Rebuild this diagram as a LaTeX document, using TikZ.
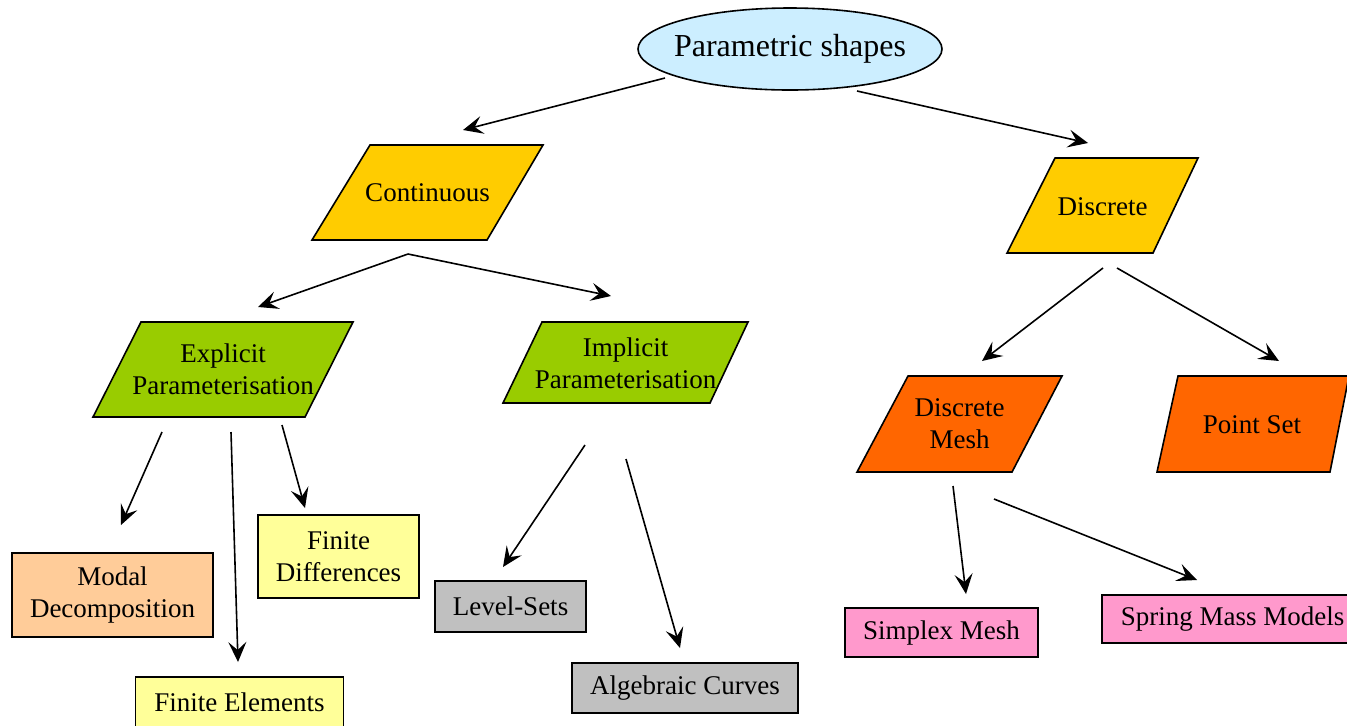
\documentclass[tikz,border=0pt]{standalone}
\usepackage{fontspec}
\setmainfont{Liberation Serif}
\usetikzlibrary{arrows.meta,calc}
\definecolor{skyfill}{HTML}{CCEEFF}
\definecolor{goldfill}{HTML}{FFCC00}
\definecolor{limefill}{HTML}{99CC00}
\definecolor{orangefill}{HTML}{FF6600}
\definecolor{peachfill}{HTML}{FFCC99}
\definecolor{lemonfill}{HTML}{FFFF99}
\definecolor{greyfill}{HTML}{C0C0C0}
\definecolor{pinkfill}{HTML}{FF99CC}
\tikzset{
	outline/.style={draw=black, line width=0.8pt},
	label/.style={inner sep=0pt, align=center, font=\fontsize{13.5}{16}\selectfont},
	leaf/.style n args={2}{outline, label, rectangle, minimum width=#1, minimum height=#2},
	arr/.style={-{Stealth[length=10pt, width=9pt, inset=4pt]}, line width=0.8pt}
}
\begin{document}
\begin{tikzpicture}[x=0.5pt, y=-0.5pt]
	\useasboundingbox (0,0) rectangle (1347,725);
	% top
	\filldraw[outline, fill=skyfill] (790,49) ellipse [x radius=76pt, y radius=20.5pt];
	\node[label, font=\fontsize{16}{19}\selectfont] (ps) at (790,49) {Parametric shapes};
	% second level
	\filldraw[outline, fill=goldfill] (370,145) -- (543,145) -- (487,240) -- (312,240) -- cycle;
	\node[label] (cont) at (427.5,192.5) {Continuous};
	\filldraw[outline, fill=goldfill] (1055,158) -- (1198,158) -- (1153,253) -- (1007,253) -- cycle;
	\node[label] (disc) at (1102.5,207) {Discrete};
	% third level
	\filldraw[outline, fill=limefill] (141,322) -- (353,322) -- (305,417) -- (93,417) -- cycle;
	\node[label] (expl) at (223,369.5) {Explicit\\Parameterisation};
	\filldraw[outline, fill=limefill] (542,322) -- (748,322) -- (710,403) -- (503,403) -- cycle;
	\node[label] (impl) at (625.5,363) {Implicit\\Parameterisation};
	\filldraw[outline, fill=orangefill] (908,376) -- (1062,376) -- (1012,472) -- (857,472) -- cycle;
	\node[label] (dm) at (959.5,424) {Discrete\\Mesh};
	\filldraw[outline, fill=orangefill] (1178,376) -- (1349,376) -- (1330,472) -- (1157,472) -- cycle;
	\node[label] (pset) at (1252,425) {Point Set};
	% leaves
	\node[leaf={100.5pt}{42pt}, fill=peachfill] (modal) at (112.5,595) {Modal\\Decomposition};
	\node[leaf={80.5pt}{41.5pt}, fill=lemonfill] (fd) at (338.5,556.5) {Finite\\Differences};
	\node[leaf={104pt}{25pt}, fill=lemonfill] (fe) at (239.5,702) {Finite Elements};
	\node[leaf={75.5pt}{25.5pt}, fill=greyfill] (ls) at (510.5,606.5) {Level-Sets};
	\node[leaf={113pt}{25pt}, fill=greyfill] (ac) at (685,688) {Algebraic Curves};
	\node[leaf={96.5pt}{24.5pt}, fill=pinkfill] (sm) at (941.5,632.5) {Simplex Mesh};
	\node[leaf={130.5pt}{24pt}, fill=pinkfill] (smm) at (1232.5,619) {Spring Mass Models};
	% connectors
	\draw[arr] ($(ps)+(-125,29)$) -- ($(cont)+(35.5,-62.5)$);
	\draw[arr] ($(ps)+(67,42)$) -- ($(disc)+(-14.5,-64)$);
	\draw[arr] ($(cont)+(-19.5,61.5)$) -- ($(expl)+(35,-62.5)$);
	\draw[arr] ($(cont)+(-19.5,61.5)$) -- ($(impl)+(-14.5,-67)$);
	\draw[arr] ($(expl)+(-61,62.5)$) -- ($(modal)+(8.5,-70)$);
	\draw[arr] ($(expl)+(8,62.5)$) -- ($(fe)+(-1.5,-40)$);
	\draw[arr] ($(expl)+(59,55.5)$) -- ($(fd)+(-33.5,-48.5)$);
	\draw[arr] ($(impl)+(-40.5,82)$) -- ($(ls)+(-7.5,-39.5)$);
	\draw[arr] ($(impl)+(0.5,96)$) -- ($(ac)+(-5,-40)$);
	\draw[arr] ($(disc)+(0.5,61)$) -- ($(dm)+(22.5,-63)$);
	\draw[arr] ($(disc)+(14.5,61)$) -- ($(pset)+(27,-64)$);
	\draw[arr] ($(dm)+(-6.5,62)$) -- ($(sm)+(24.5,-38.5)$);
	\draw[arr] ($(dm)+(34.5,75)$) -- ($(smm)+(-35.5,-39)$);
\end{tikzpicture}
\end{document}
